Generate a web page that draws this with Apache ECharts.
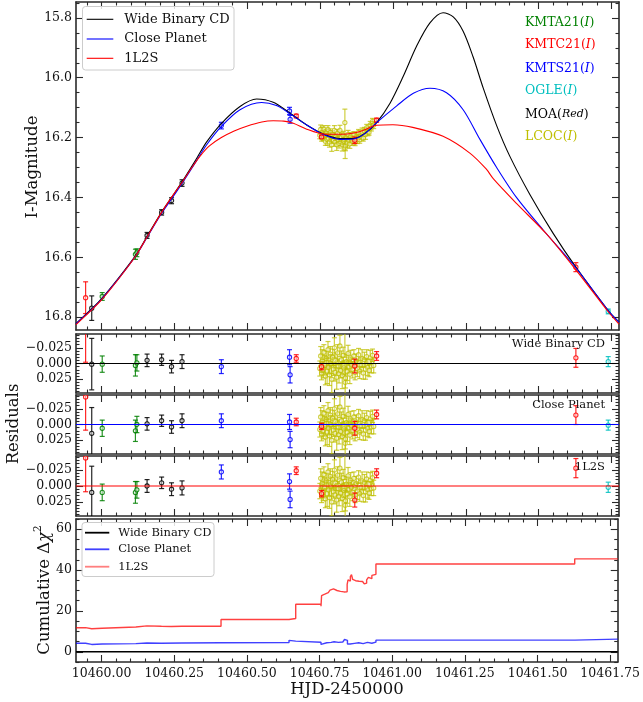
<!DOCTYPE html>
<html><head><meta charset="utf-8">
<script src="https://cdn.jsdelivr.net/npm/echarts@6/dist/echarts.min.js"></script>
<style>html,body{margin:0;padding:0;background:#fff}#c{width:643px;height:702px}</style>
</head><body><div id="c"></div>
<script>
// ---------------- DATA ----------------
const XMIN = 10459.912, XMAX = 10461.776;
const MAG_MIN = 15.747, MAG_MAX = 16.843;
const RES_MIN = -0.047, RES_MAX = 0.047;
const CHI_MIN = -5, CHI_MAX = 65;

const xTicks = [10460.00, 10460.25, 10460.50, 10460.75, 10461.00, 10461.25, 10461.50, 10461.75];
const xTickLabels = ['10460.00','10460.25','10460.50','10460.75','10461.00','10461.25','10461.50','10461.75'];
const magTicks = [15.8, 16.0, 16.2, 16.4, 16.6, 16.8];
const magTickLabels = ['15.8','16.0','16.2','16.4','16.6','16.8'];
const resTicks = [-0.025, 0, 0.025];
const resTickLabels = ['\u22120.025','0.000','0.025'];
const chiTicks = [0, 20, 40, 60];
const chiTickLabels = ['0','20','40','60'];

const modelNames = ['Wide Binary CD', 'Close Planet', '1L2S'];

// model light curves [HJD', I mag]
const modelWB = [
[10459.912,16.822],[10459.966,16.772],[10460.001,16.737],[10460.060,16.667],[10460.118,16.592],[10460.156,16.530],
[10460.206,16.449],[10460.240,16.400],[10460.276,16.348],[10460.326,16.270],[10460.360,16.215],[10460.411,16.153],
[10460.475,16.096],[10460.532,16.071],[10460.589,16.082],[10460.646,16.118],[10460.704,16.158],[10460.761,16.188],
[10460.818,16.203],[10460.864,16.203],[10460.905,16.185],[10460.944,16.150],[10460.990,16.085],[10461.035,15.996],
[10461.081,15.895],[10461.127,15.817],[10461.172,15.783],[10461.207,15.797],[10461.241,15.845],[10461.275,15.930],
[10461.310,16.035],[10461.356,16.160],[10461.401,16.262],[10461.470,16.390],[10461.550,16.520],[10461.628,16.633],
[10461.739,16.778],[10461.776,16.817]];
const modelCP = [
[10459.912,16.822],[10459.966,16.774],[10460.001,16.739],[10460.060,16.669],[10460.118,16.594],[10460.156,16.533],
[10460.206,16.453],[10460.240,16.405],[10460.276,16.353],[10460.326,16.277],[10460.360,16.225],[10460.411,16.163],
[10460.475,16.107],[10460.549,16.083],[10460.600,16.093],[10460.646,16.120],[10460.704,16.158],[10460.761,16.190],
[10460.818,16.206],[10460.864,16.205],[10460.905,16.186],[10460.944,16.150],[10461.013,16.094],[10461.070,16.052],
[10461.127,16.035],[10461.184,16.050],[10461.241,16.107],[10461.298,16.205],[10461.356,16.300],[10461.424,16.400],
[10461.515,16.508],[10461.628,16.635],[10461.739,16.778],[10461.776,16.817]];
const model1L = [
[10459.912,16.825],[10459.966,16.776],[10460.001,16.741],[10460.060,16.670],[10460.118,16.594],[10460.156,16.532],
[10460.206,16.450],[10460.240,16.400],[10460.276,16.350],[10460.310,16.300],[10460.338,16.262],[10460.370,16.228],
[10460.411,16.200],[10460.455,16.178],[10460.498,16.162],[10460.550,16.148],[10460.589,16.144],[10460.625,16.145],
[10460.658,16.152],[10460.704,16.172],[10460.761,16.188],[10460.829,16.189],[10460.887,16.180],[10460.944,16.159],
[10461.000,16.157],[10461.068,16.166],[10461.172,16.196],[10461.264,16.252],[10461.320,16.305],[10461.345,16.338],
[10461.424,16.420],[10461.527,16.522],[10461.628,16.642],[10461.739,16.782],[10461.776,16.823]];

// data rows: [HJD', mag, err, resWB, resCP, res1L]
const KMTA21 = [
[10460.002,16.731,0.013, 0.001, 0.006, 0.010],
[10460.116,16.590,0.017, 0.003, 0.010, 0.010],
[10460.121,16.585,0.013,-0.001, 0.000, 0.006]];
const KMTC21 = [
[10459.945,16.735,0.053,-0.055,-0.044,-0.044],
[10460.668,16.128,0.006,-0.008,-0.004,-0.024],
[10460.755,16.198,0.005, 0.005, 0.003, 0.012],
[10460.869,16.209,0.011, 0.004, 0.006, 0.022],
[10460.944,16.142,0.007,-0.012,-0.016,-0.020],
[10461.628,16.633,0.015,-0.009,-0.015,-0.028]];
const KMTS21 = [
[10460.411,16.160,0.011, 0.005,-0.006,-0.022],
[10460.645,16.111,0.012,-0.010,-0.004,-0.007],
[10460.647,16.139,0.013, 0.018, 0.024, 0.021]];
const OGLE = [
[10461.739,16.781,0.008,-0.003, 0.001, 0.002]];
const MOA = [
[10459.966,16.770,0.041, 0.001, 0.014, 0.010],
[10460.156,16.527,0.010,-0.005,-0.001, 0.000],
[10460.206,16.450,0.009,-0.006,-0.006,-0.005],
[10460.240,16.411,0.010, 0.005, 0.004, 0.005],
[10460.276,16.352,0.011,-0.003,-0.006, 0.003]];
// LCOC rows: [HJD', mag, err, residual]
const LCOC = [
[10460.749,16.192,0.012, 0.008],[10460.752,16.173,0.015,-0.012],[10460.755,16.201,0.011, 0.015],[10460.757,16.183,0.018,-0.004],
[10460.760,16.198,0.013, 0.010],[10460.763,16.172,0.012,-0.018],[10460.766,16.194,0.016, 0.003],[10460.768,16.212,0.014, 0.020],
[10460.771,16.185,0.012,-0.008],[10460.774,16.206,0.020, 0.012],[10460.777,16.173,0.013,-0.022],[10460.779,16.202,0.011, 0.006],
[10460.782,16.215,0.017, 0.018],[10460.785,16.183,0.012,-0.015],[10460.788,16.199,0.015, 0.001],[10460.790,16.224,0.022, 0.025],
[10460.793,16.190,0.013,-0.010],[10460.796,16.209,0.010, 0.009],[10460.799,16.176,0.016,-0.025],[10460.801,16.215,0.014, 0.014],
[10460.804,16.197,0.012,-0.005],[10460.807,16.224,0.019, 0.022],[10460.810,16.186,0.013,-0.017],[10460.812,16.207,0.011, 0.004],
[10460.815,16.220,0.015, 0.016],[10460.818,16.176,0.017,-0.028],[10460.821,16.215,0.012, 0.011],[10460.823,16.199,0.014,-0.006],
[10460.826,16.224,0.021, 0.019],[10460.829,16.192,0.013,-0.013],[10460.832,16.212,0.011, 0.007],[10460.835,16.150,0.045,-0.055],
[10460.836,16.235,0.035, 0.030],[10460.837,16.228,0.016, 0.023],[10460.840,16.202,0.012,-0.003],[10460.843,16.218,0.014, 0.013],
[10460.846,16.189,0.013,-0.016],[10460.849,16.209,0.010, 0.005],[10460.852,16.221,0.015, 0.017],[10460.855,16.195,0.012,-0.009],
[10460.858,16.205,0.011, 0.002],[10460.862,16.213,0.013, 0.010],[10460.866,16.190,0.010,-0.012],[10460.870,16.215,0.012, 0.014],
[10460.874,16.196,0.011,-0.004],[10460.878,16.207,0.013, 0.008],[10460.882,16.183,0.010,-0.014],[10460.886,16.207,0.012, 0.012],
[10460.890,16.195,0.011, 0.002],[10460.894,16.182,0.014,-0.008],[10460.898,16.202,0.010, 0.015],[10460.902,16.178,0.012,-0.006],
[10460.906,16.190,0.016, 0.009],[10460.910,16.167,0.011,-0.011],[10460.914,16.181,0.013, 0.006],[10460.918,16.182,0.010, 0.011],
[10460.922,16.158,0.012,-0.009],[10460.926,16.167,0.011, 0.004],[10460.930,16.146,0.010,-0.013],[10460.934,16.158,0.012, 0.003]];

// cumulative delta chi2 [HJD', value]
const chiWB = [[10459.912,0],[10461.776,0]];
const chiCP = [
[10459.912,4.2],[10459.945,3.6],[10459.966,3.8],[10460.002,4.0],[10460.118,4.3],[10460.156,4.2],[10460.206,4.3],
[10460.276,4.4],[10460.411,4.5],[10460.645,5.6],[10460.647,5.2],[10460.668,4.7],[10460.755,3.6],[10460.760,4.4],
[10460.775,4.6],[10460.790,4.9],[10460.800,4.6],[10460.815,4.8],[10460.830,5.2],[10460.836,6.0],[10460.842,5.6],
[10460.846,3.8],[10460.855,4.1],[10460.870,4.4],[10460.885,4.0],[10460.900,4.6],[10460.915,4.2],[10460.930,4.7],
[10460.944,5.7],[10461.628,6.2],[10461.776,6.2]];
const chi1L = [
[10459.912,11.8],[10459.945,11.3],[10459.966,11.5],[10460.002,12.1],[10460.118,12.6],[10460.121,12.7],[10460.156,12.5],
[10460.206,12.4],[10460.240,12.5],[10460.276,12.5],[10460.411,15.8],[10460.645,16.0],[10460.647,16.3],[10460.668,23.3],
[10460.755,22.3],[10460.757,27.5],[10460.762,28.2],[10460.768,28.7],[10460.774,29.0],[10460.780,29.5],[10460.786,30.2],
[10460.792,30.8],[10460.798,30.3],[10460.804,30.0],[10460.810,29.2],[10460.816,29.6],[10460.822,29.0],[10460.828,29.3],
[10460.834,28.8],[10460.840,29.4],[10460.845,33.0],[10460.848,35.2],[10460.852,34.6],[10460.856,36.8],[10460.860,37.8],
[10460.864,35.4],[10460.868,34.8],[10460.874,35.1],[10460.880,34.5],[10460.886,34.8],[10460.892,34.4],[10460.898,34.6],
[10460.904,33.2],[10460.908,33.6],[10460.912,35.2],[10460.918,36.4],[10460.924,35.8],[10460.930,37.4],[10460.936,37.9],
[10460.944,43.0],[10461.628,45.5],[10461.776,45.5]];

// ---------------- CHART ----------------
const FONT = 'DejaVu Serif';
const SPINE = '#2a2a2a';
const TXT = '#111';
const C_WB = '#000000', C_CP = '#0000ff', C_1L = '#ff0000';

function minorTicks(min, max, step, majors) {
  const out = [];
  const s = Math.ceil(min / step - 1e-9), e = Math.floor(max / step + 1e-9);
  for (let k = s; k <= e; k++) {
    const v = +(k * step).toFixed(6);
    if (!majors.some(m => Math.abs(m - v) < step * 1e-3)) out.push(v);
  }
  return out;
}
function labelFor(v, ticks, labels) {
  let bi = 0, bd = Infinity;
  ticks.forEach((t, i) => { const d = Math.abs(t - v); if (d < bd) { bd = d; bi = i; } });
  return labels[bi];
}
const xMinor = minorTicks(XMIN, XMAX, 0.05, xTicks);
const magMinor = minorTicks(MAG_MIN, MAG_MAX, 0.05, magTicks);
const resMinor = minorTicks(RES_MIN, RES_MAX, 0.005, resTicks);
const chiMinor = minorTicks(CHI_MIN, CHI_MAX, 5, chiTicks);

const grids = [
  {left: 76, top: 2, width: 543, height: 328},
  {left: 76, top: 334, width: 543, height: 59},
  {left: 76, top: 395, width: 543, height: 59},
  {left: 76, top: 456, width: 543, height: 60},
  {left: 76, top: 519, width: 543, height: 143}
];

const tickStyle = {color: SPINE, width: 1.1};
function axisSet(dim, g, min, max, inverse, major, minor, labels, showLabels) {
  const base = {type: 'value', gridIndex: g, min: min, max: max, inverse: inverse,
    splitLine: {show: false}, axisPointer: {show: false}, silent: true};
  const pos = dim === 'x' ? ['bottom', 'top'] : ['left', 'right'];
  const out = [];
  pos.forEach((p, pi) => {
    out.push(Object.assign({}, base, {
      position: p,
      axisLine: {show: true, onZero: false, lineStyle: {color: SPINE, width: 1.6}},
      axisTick: {show: true, inside: true, length: 7, customValues: major, lineStyle: tickStyle},
      axisLabel: pi === 0 && showLabels ? {show: true, customValues: major,
        formatter: v => labelFor(v, major, labels), margin: dim === 'x' ? 5 : 4,
        fontFamily: FONT, fontSize: 12.5, color: TXT} : {show: false}
    }));
    out.push(Object.assign({}, base, {
      position: p,
      axisLine: {show: false, onZero: false},
      axisTick: {show: true, inside: true, length: 3.5, customValues: minor, lineStyle: tickStyle},
      axisLabel: {show: false}
    }));
  });
  return out;
}

let xAxes = [], yAxes = [];
for (let g = 0; g < 5; g++) {
  xAxes = xAxes.concat(axisSet('x', g, XMIN, XMAX, false, xTicks, xMinor, xTickLabels, g === 4));
}
yAxes = yAxes.concat(axisSet('y', 0, MAG_MIN, MAG_MAX, true, magTicks, magMinor, magTickLabels, true));
for (let g = 1; g <= 3; g++) {
  yAxes = yAxes.concat(axisSet('y', g, RES_MIN, RES_MAX, true, resTicks, resMinor, resTickLabels, true));
}
yAxes = yAxes.concat(axisSet('y', 4, CHI_MIN, CHI_MAX, false, chiTicks, chiMinor, chiTickLabels, true));

function errRender(color, op) {
  return function (params, api) {
    const x = api.value(0), y = api.value(1), e = api.value(2);
    const c = api.coord([x, y]);
    const a = api.coord([x, y - e]);
    const b = api.coord([x, y + e]);
    const cap = 2.5;
    const ls = {stroke: color, lineWidth: 1.2, opacity: op};
    return {type: 'group', children: [
      {type: 'line', shape: {x1: c[0], y1: a[1], x2: c[0], y2: b[1]}, style: ls},
      {type: 'line', shape: {x1: c[0] - cap, y1: a[1], x2: c[0] + cap, y2: a[1]}, style: ls},
      {type: 'line', shape: {x1: c[0] - cap, y1: b[1], x2: c[0] + cap, y2: b[1]}, style: ls},
      {type: 'circle', shape: {cx: c[0], cy: c[1], r: 2.1},
        style: {stroke: color, lineWidth: 1.1, fill: 'rgba(255,255,255,0.55)', opacity: op}}
    ]};
  };
}

const datasets = [
  {name: 'LCOC', rows: LCOC, color: '#bfbf00', op: 0.75, single: true},
  {name: 'KMTA21', rows: KMTA21, color: '#008000', op: 0.85},
  {name: 'MOA', rows: MOA, color: '#000000', op: 0.85},
  {name: 'KMTS21', rows: KMTS21, color: '#0000ff', op: 0.85},
  {name: 'KMTC21', rows: KMTC21, color: '#ff0000', op: 0.85},
  {name: 'OGLE', rows: OGLE, color: '#00bfbf', op: 0.85}
];

const series = [];
for (let g = 0; g < 4; g++) {
  datasets.forEach(ds => {
    const data = ds.rows.map(r => {
      if (g === 0) return [r[0], r[1], r[2]];
      return [r[0], ds.single ? r[3] : r[2 + g], r[2]];
    });
    series.push({type: 'custom', name: ds.name + '_' + g, xAxisIndex: 4 * g, yAxisIndex: 4 * g,
      data: data, encode: {x: 0, y: 1}, renderItem: errRender(ds.color, ds.op), clip: true, z: 3, silent: true});
  });
}
[[modelWB, C_WB], [modelCP, C_CP], [model1L, C_1L]].forEach((m, i) => {
  series.push({type: 'line', name: modelNames[i], xAxisIndex: 0, yAxisIndex: 0, data: m[0],
    symbol: 'none', smooth: 0.3, lineStyle: {color: m[1], width: 1.1}, z: 5, clip: true, silent: true});
});
[C_WB, C_CP, C_1L].forEach((c, i) => {
  const g = i + 1;
  series.push({type: 'line', name: 'zero' + g, xAxisIndex: 4 * g, yAxisIndex: 4 * g,
    data: [[XMIN, 0], [XMAX, 0]], symbol: 'none', lineStyle: {color: c, width: 1.2}, z: 5, silent: true});
});
[[chiWB, C_WB, 1], [chiCP, C_CP, 0.75], [chi1L, C_1L, 0.75]].forEach((m, i) => {
  series.push({type: 'line', name: 'chi_' + modelNames[i], xAxisIndex: 16, yAxisIndex: 16, data: m[0],
    step: 'end', symbol: 'none', lineStyle: {color: m[1], width: 1.4, opacity: m[2]}, z: 5, clip: true, silent: true});
});

const graphic = [];
function txt(x, y, text, opts) {
  return Object.assign({type: 'text', x: x, y: y, z: 100, silent: true,
    style: Object.assign({text: text, fontFamily: FONT, fontSize: 16, fill: TXT, align: 'center', verticalAlign: 'middle'}, opts.style || {})},
    opts.el || {});
}
graphic.push(txt(33, 167, 'I-Magnitude', {style: {fontSize: 16.5}, el: {rotation: Math.PI / 2}}));
graphic.push(txt(13.5, 424, 'Residuals', {style: {fontSize: 16.5}, el: {rotation: Math.PI / 2}}));
graphic.push(txt(347, 690, 'HJD-2450000', {style: {fontSize: 16.5}}));
graphic.push({type: 'text', x: 43, y: 590, rotation: Math.PI / 2, z: 100, silent: true,
  style: {text: '{a|Cumulative \u0394}{b|\u03c7}{c|2}', align: 'center', verticalAlign: 'middle', fill: TXT,
    rich: {a: {fontFamily: FONT, fontSize: 16.5, lineHeight: 20, verticalAlign: 'bottom'},
           b: {fontFamily: FONT, fontSize: 16.5, fontStyle: 'italic', lineHeight: 20, verticalAlign: 'bottom'},
           c: {fontFamily: FONT, fontSize: 10.5, lineHeight: 12, verticalAlign: 'top'}}}});

function legend(x, y, w, h, rows, lx1, lx2, tx, fs, lw, ops) {
  graphic.push({type: 'rect', z: 99, silent: true, shape: {x: x, y: y, width: w, height: h, r: 3},
    style: {fill: 'rgba(255,255,255,0.85)', stroke: '#cccccc', lineWidth: 1}});
  rows.forEach((ry, i) => {
    graphic.push({type: 'line', z: 100, silent: true, shape: {x1: lx1, y1: ry, x2: lx2, y2: ry},
      style: {stroke: [C_WB, C_CP, C_1L][i], lineWidth: lw, opacity: ops[i]}});
    graphic.push(txt(tx, ry, modelNames[i], {style: {fontSize: fs, align: 'left'}}));
  });
}
legend(82.5, 6.5, 151.5, 63.5, [19.3, 39, 58.3], 86.7, 113.3, 124.3, 13, 1.1, [1, 1, 1]);
legend(82, 522.5, 132, 54, [532.7, 549.3, 566.7], 85, 109.3, 118.3, 11.5, 1.8, [1, 0.75, 0.5]);

const dsLabels = [
  ['KMTA21(', 'I', ')', '#008000', 22.7],
  ['KMTC21(', 'I', ')', '#ff0000', 45.0],
  ['KMTS21(', 'I', ')', '#0000ff', 68.3],
  ['OGLE(', 'I', ')', '#00bfbf', 90.7],
  ['MOA(', 'Red', ')', '#000000', 114.3],
  ['LCOC(', 'I', ')', '#bfbf00', 136.7]
];
dsLabels.forEach(l => {
  graphic.push({type: 'text', x: 525, y: l[4], z: 100, silent: true,
    style: {text: '{n|' + l[0] + '}{i|' + l[1] + '}{n|' + l[2] + '}', align: 'left', verticalAlign: 'middle', fill: l[3],
      rich: {n: {fontFamily: FONT, fontSize: 12.5, fill: l[3]},
             i: {fontFamily: FONT, fontSize: l[1] === 'Red' ? 11 : 12.5, fontStyle: 'italic', fill: l[3]}}}});
});
[['Wide Binary CD', 344], ['Close Planet', 405], ['1L2S', 466.7]].forEach(l => {
  graphic.push(txt(605, l[1], l[0], {style: {fontSize: 11.5, align: 'right'}}));
});

const chart = echarts.init(document.getElementById('c'), null, {renderer: 'canvas'});
chart.setOption({
  animation: false,
  backgroundColor: '#fff',
  grid: grids,
  xAxis: xAxes,
  yAxis: yAxes,
  series: series,
  graphic: graphic
});
</script>
</body></html>
